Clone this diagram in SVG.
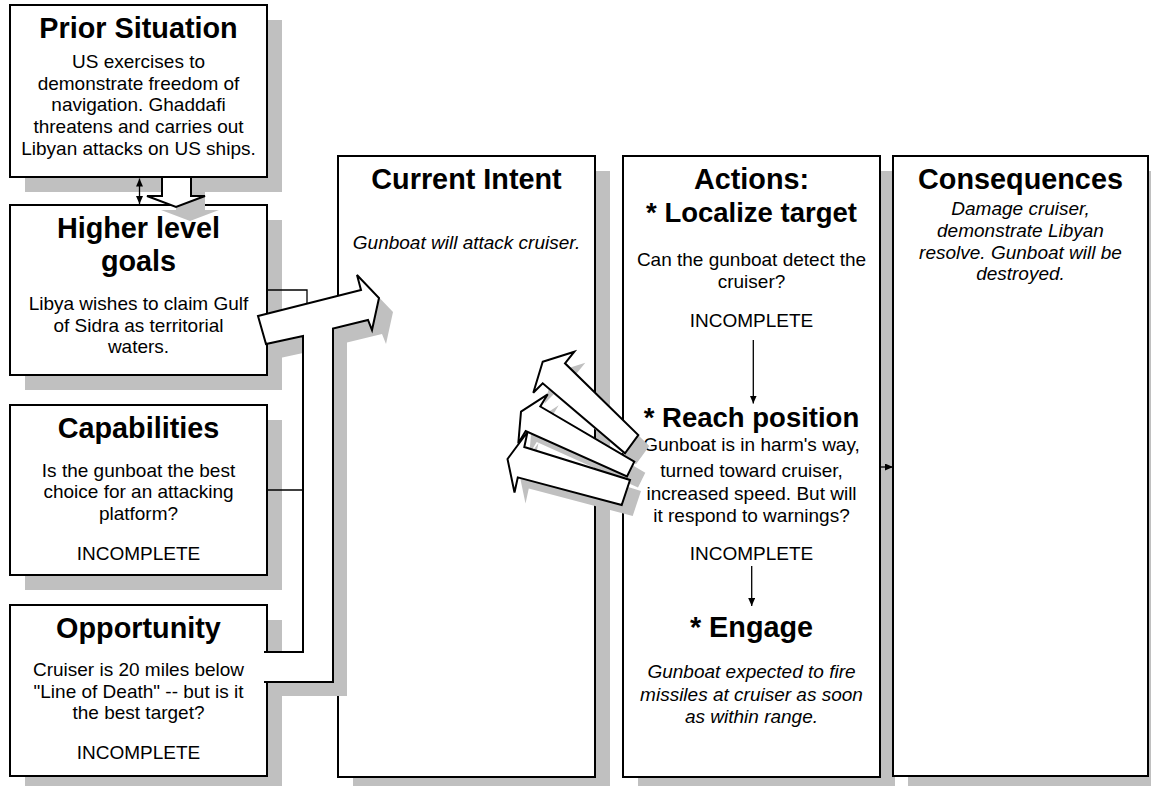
<svg xmlns="http://www.w3.org/2000/svg" width="1151" height="786" viewBox="0 0 1151 786">
<defs>
<style>
.sh{fill:#c0c0c0}
.bx{fill:#fff;stroke:#000;stroke-width:2}
.t{font-family:"Liberation Sans",Arial,Helvetica,sans-serif;font-weight:bold;font-size:28.8px;text-anchor:middle;fill:#000}
.s{font-size:27.5px}
.b{font-family:"Liberation Sans",Arial,Helvetica,sans-serif;font-size:19px;text-anchor:middle;fill:#000}
.i{font-style:italic}
.ln{fill:none;stroke:#000;stroke-width:1.3}
.ba{fill:#fff;stroke:#000;stroke-width:2;stroke-linejoin:miter}
.bf{fill:#fff;stroke:none}
.bs{fill:none;stroke:#000;stroke-width:2;stroke-linejoin:miter}
</style>
<marker id="ah" viewBox="0 0 8 7" refX="8" refY="3.5" markerWidth="8" markerHeight="7" markerUnits="userSpaceOnUse" orient="auto-start-reverse"><path d="M0,0 L8,3.5 L0,7 z" fill="#000"/></marker>
</defs>
<rect width="1151" height="786" fill="#fff"/>

<g id="prior-situation">
<rect class="sh" x="25" y="20" width="257" height="172"/>
<rect class="bx" x="10" y="5" width="257" height="172"/>
<text class="t" x="138.5" y="38">Prior Situation</text>
<text class="b"><tspan x="138.5" y="68">US exercises to</tspan><tspan x="138.5" y="89.7">demonstrate freedom of</tspan><tspan x="138.5" y="111.4">navigation. Ghaddafi</tspan><tspan x="138.5" y="133.1">threatens and carries out</tspan><tspan x="138.5" y="154.8">Libyan attacks on US ships.</tspan></text>
</g>

<g id="higher-level-goals">
<rect class="sh" x="25" y="220" width="257" height="170"/>
<rect class="bx" x="10" y="205" width="257" height="170"/>
<text class="t"><tspan x="138.5" y="238">Higher level</tspan><tspan x="138.5" y="271">goals</tspan></text>
<text class="b"><tspan x="138.5" y="310">Libya wishes to claim Gulf</tspan><tspan x="138.5" y="331.7">of Sidra as territorial</tspan><tspan x="138.5" y="353.3">waters.</tspan></text>
</g>

<g id="capabilities">
<rect class="sh" x="25" y="420" width="257" height="170"/>
<rect class="bx" x="10" y="405" width="257" height="170"/>
<text class="t" x="138.5" y="437.5">Capabilities</text>
<text class="b"><tspan x="138.5" y="476.7">Is the gunboat the best</tspan><tspan x="138.5" y="498.3">choice for an attacking</tspan><tspan x="138.5" y="520">platform?</tspan><tspan x="138.5" y="560">INCOMPLETE</tspan></text>
</g>

<g id="opportunity">
<rect class="sh" x="25" y="620" width="257" height="171"/>
<rect class="bx" x="10" y="605" width="257" height="171"/>
<text class="t" x="138.5" y="637.5">Opportunity</text>
<text class="b"><tspan x="138.5" y="676">Cruiser is 20 miles below</tspan><tspan x="138.5" y="697.7">&quot;Line of Death&quot; -- but is it</tspan><tspan x="138.5" y="719.4">the best target?</tspan><tspan x="138.5" y="759">INCOMPLETE</tspan></text>
</g>

<g id="current-intent">
<rect class="sh" x="353" y="171" width="257" height="621"/>
<rect class="bx" x="338" y="156" width="257" height="621"/>
<text class="t" x="466.5" y="188.5">Current Intent</text>
<text class="b i" x="466.5" y="248.5">Gunboat will attack cruiser.</text>
</g>

<g id="actions">
<rect class="sh" x="638" y="171" width="257" height="621"/>
<rect class="bx" x="623" y="156" width="257" height="621"/>
<text class="t" x="751.5" y="188.5">Actions:</text>
<text class="t s" x="751.5" y="221.5">* Localize target</text>
<text class="b"><tspan x="751.5" y="266">Can the gunboat detect the</tspan><tspan x="751.5" y="287.7">cruiser?</tspan><tspan x="751.5" y="327">INCOMPLETE</tspan></text>
<text class="t s" x="751.5" y="427">* Reach position</text>
<text class="b"><tspan x="751.5" y="450.5">Gunboat is in harm's way,</tspan><tspan x="751.5" y="477">turned toward cruiser,</tspan><tspan x="751.5" y="499.5">increased speed. But will</tspan><tspan x="751.5" y="522">it respond to warnings?</tspan><tspan x="751.5" y="559.5">INCOMPLETE</tspan></text>
<text class="t" x="751.5" y="636.7">* Engage</text>
<text class="b i"><tspan x="751.5" y="678.3">Gunboat expected to fire</tspan><tspan x="751.5" y="700.7">missiles at cruiser as soon</tspan><tspan x="751.5" y="723">as within range.</tspan></text>
</g>

<g id="consequences">
<rect class="sh" x="908" y="171" width="255" height="620"/>
<rect class="bx" x="893" y="156" width="255" height="620"/>
<text class="t" x="1020.5" y="188.5">Consequences</text>
<text class="b i"><tspan x="1020.5" y="215">Damage cruiser,</tspan><tspan x="1020.5" y="237">demonstrate Libyan</tspan><tspan x="1020.5" y="258.5">resolve. Gunboat will be</tspan><tspan x="1020.5" y="280">destroyed.</tspan></text>
</g>

<g id="connectors">
<line class="ln" x1="139.5" y1="178.5" x2="139.5" y2="204" marker-start="url(#ah)" marker-end="url(#ah)"/>
<polygon class="sh" points="176,191 205,191 205,210 219,210 190,221 161,210 176,210"/>
<polygon class="ba" points="162,177 191,177 191,196 205,196 176,207 147,196 162,196"/>
<polyline class="ln" points="267,290 307,290 307,310"/>
<line class="ln" x1="267" y1="490" x2="303" y2="490"/>
<polygon class="sh" transform="translate(14,14)" points="258,316 361,290 357,275 379,298 372,330 368,320 333,328.5 333,682 264,682 264,652 303,652 303,336 266,344"/>
<polygon class="bf" points="258,316 361,290 357,275 379,298 372,330 368,320 333,328.5 333,682 264,682 264,652 303,652 303,336 266,344"/>
<polyline class="bs" points="264,682 333,682 333,328.5 368,320 372,330 379,298 357,275 361,290 258,316 266,344 303,336 303,652 264,652"/>
<g transform="translate(11,11)">
<polygon class="sh" points="507.5,459 527.5,432 524.3,447 630,480 621.7,505 517.8,477.4 514.5,492.5"/>
<polygon class="sh" points="521,411.7 547.7,394.3 540.3,406.5 634.3,461.7 627,476.5 525.7,431 518.3,443.3"/>
<polygon class="sh" points="542.7,361.7 574.3,351.7 565,363.3 638.3,435 625,453.3 542.7,383.3 533.3,392.7"/>
</g>
<polygon class="ba" points="507.5,459 527.5,432 524.3,447 630,480 621.7,505 517.8,477.4 514.5,492.5"/>
<polygon class="ba" points="521,411.7 547.7,394.3 540.3,406.5 634.3,461.7 627,476.5 525.7,431 518.3,443.3"/>
<polygon class="ba" points="542.7,361.7 574.3,351.7 565,363.3 638.3,435 625,453.3 542.7,383.3 533.3,392.7"/>
<line class="ln" x1="753.3" y1="340" x2="753.3" y2="403.5" marker-end="url(#ah)"/>
<line class="ln" x1="751.7" y1="566" x2="751.7" y2="606" marker-end="url(#ah)"/>
<line class="ln" x1="881" y1="467" x2="893" y2="467" marker-end="url(#ah)"/>
</g>
</svg>
